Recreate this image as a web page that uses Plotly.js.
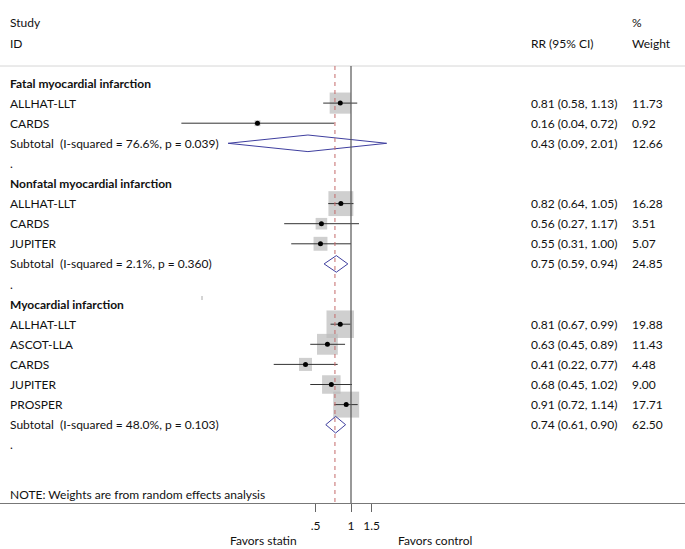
<!DOCTYPE html>
<html>
<head>
<meta charset="utf-8">
<script src="https://cdn.plot.ly/plotly-3.0.1.min.js"></script>
<style>html,body{margin:0;padding:0;background:#fff;}#chart{width:685px;height:549px;}</style>
</head>
<body>
<div id="chart"></div>
<script>
// ---------- data ----------
const groupNames = ['Fatal myocardial infarction', 'Nonfatal myocardial infarction', 'Myocardial infarction'];
const groupRows = [0, 5, 11];

const studyNames = ['ALLHAT-LLT', 'CARDS', 'ALLHAT-LLT', 'CARDS', 'JUPITER', 'ALLHAT-LLT', 'ASCOT-LLA', 'CARDS', 'JUPITER', 'PROSPER'];
const studyRows = [1, 2, 6, 7, 8, 12, 13, 14, 15, 16];
const studyRR = [0.81, 0.16, 0.82, 0.56, 0.55, 0.81, 0.63, 0.41, 0.68, 0.91];
const studyLo = [0.58, 0.036, 0.64, 0.27, 0.31, 0.67, 0.45, 0.22, 0.45, 0.72];
const studyHi = [1.13, 0.72, 1.05, 1.17, 1.00, 0.99, 0.89, 0.77, 1.02, 1.14];
const studyW = [11.73, 0.92, 16.28, 3.51, 5.07, 19.88, 11.43, 4.48, 9.00, 17.71];

const subRows = [3, 9, 17];
const subI2 = ['76.6%', '2.1%', '48.0%'];
const subP = ['0.039', '0.360', '0.103'];
const subRR = [0.43, 0.75, 0.74];
const subLo = [0.09, 0.59, 0.61];
const subHi = [2.01, 0.94, 0.90];
const subW = [12.66, 24.85, 62.50];

const blankRows = [4, 10, 18];
const overallRR = 0.73;

const tickVals = [0.5, 1, 1.5];
const tickText = ['.5', '1', '1.5'];

// ---------- layout helpers ----------
const W = 685, H = 549;
const rowPx0 = 83, rowStep = 20.1, plotBottom = 503;
const pxToV = p => (p - rowPx0) / rowStep;
const pxToPaperY = p => (plotBottom - p) / plotBottom;
const vTop = pxToV(0), vBot = pxToV(plotBottom);
const xOnePx = 351, pxPerDecade = 117.5;
const xr = [-xOnePx / pxPerDecade, (W - xOnePx) / pxPerDecade];
const FONT = 'Lato, "Open Sans", sans-serif';
const FS = 12;
const TXT = '#111';
const fmt = v => v.toFixed(2);

const traces = [];

// CI lines for studies
const ciX = [], ciY = [];
studyRows.forEach((r, i) => { ciX.push(studyLo[i], studyHi[i], null); ciY.push(r, r, null); });

// boxes
traces.push({
  type: 'scatter', mode: 'markers', x: studyRR, y: studyRows,
  marker: { symbol: 'square', color: '#bbbbbb', size: studyW.map(w => 6.17 * Math.sqrt(w)), line: { width: 0 } },
  hoverinfo: 'skip', showlegend: false, cliponaxis: false
});
traces.push({
  type: 'scatter', mode: 'lines', x: ciX, y: ciY,
  line: { color: '#333', width: 1 }, hoverinfo: 'skip', showlegend: false
});
traces.push({
  type: 'scatter', mode: 'markers', x: studyRR, y: studyRows,
  marker: { symbol: 'circle', color: '#000', size: 5 }, hoverinfo: 'skip', showlegend: false
});

// diamonds
const dh = 0.413;
const dX = [], dY = [];
subRows.forEach((r, i) => {
  dX.push(subLo[i], subRR[i], subHi[i], subRR[i], subLo[i], null);
  dY.push(r, r - dh, r, r + dh, r, null);
});
traces.push({
  type: 'scatter', mode: 'lines', x: dX, y: dY,
  line: { color: '#3f3f9f', width: 1 }, hoverinfo: 'skip', showlegend: false
});

// ---------- annotations ----------
const ann = [];
const lx = 8 / W, cix = 529 / W, wx = 630 / W;
function txt(x, v, s, extra) {
  ann.push(Object.assign({ xref: 'paper', yref: 'y', x: x, y: v, text: s, showarrow: false,
    xanchor: 'left', yanchor: 'middle', font: { family: FONT, size: FS, color: TXT } }, extra || {}));
}
txt(lx, pxToV(22), 'Study');
txt(lx, pxToV(43), 'ID');
txt(cix, pxToV(43), 'RR (95% CI)');
txt(wx, pxToV(22), '%');
txt(wx, pxToV(43), 'Weight');
groupRows.forEach((r, i) => txt(lx, r, '<b>' + groupNames[i] + '</b>'));
studyRows.forEach((r, i) => {
  txt(lx, r, studyNames[i]);
  txt(cix, r, fmt(studyRR[i]) + ' (' + fmt(studyLo[i]) + ', ' + fmt(studyHi[i]) + ')');
  txt(wx, r, fmt(studyW[i]));
});
subRows.forEach((r, i) => {
  txt(lx, r, 'Subtotal  (I-squared = ' + subI2[i] + ', p = ' + subP[i] + ')');
  txt(cix, r, fmt(subRR[i]) + ' (' + fmt(subLo[i]) + ', ' + fmt(subHi[i]) + ')');
  txt(wx, r, fmt(subW[i]));
});
blankRows.forEach(r => txt(lx, r, '.'));
txt(lx, pxToV(494), 'NOTE: Weights are from random effects analysis');
txt(263.5 / W, pxToPaperY(540), 'Favors statin', { xanchor: 'center', yref: 'paper' });
txt(435 / W, pxToPaperY(540), 'Favors control', { xanchor: 'center', yref: 'paper' });

// ---------- shapes ----------
const sepV = pxToV(66);
const shapes = [
  { type: 'line', xref: 'paper', yref: 'y', x0: 0, x1: 1, y0: sepV, y1: sepV, line: { color: '#d6d6d6', width: 1 } },
  { type: 'line', xref: 'x', yref: 'y', x0: 1, x1: 1, y0: sepV, y1: vBot, line: { color: '#555', width: 1.2 } },
  { type: 'line', xref: 'x', yref: 'y', x0: overallRR, x1: overallRR, y0: sepV, y1: vBot, line: { color: '#c46a6a', width: 1, dash: '4px,4px' } },
  { type: 'line', xref: 'paper', yref: 'y', x0: 202 / W, x1: 202 / W, y0: pxToV(296), y1: pxToV(300), line: { color: '#aaa', width: 1 } }
];

const layout = {
  width: W, height: H,
  margin: { l: 0, r: 0, t: 0, b: H - plotBottom, pad: 0 },
  paper_bgcolor: '#fff', plot_bgcolor: '#fff',
  showlegend: false,
  font: { family: FONT, size: FS, color: TXT },
  xaxis: {
    type: 'log', range: xr, tickvals: tickVals, ticktext: tickText,
    ticks: 'outside', ticklen: 8, tickcolor: '#666', tickwidth: 1,
    showline: true, linecolor: '#777', linewidth: 1,
    showgrid: false, zeroline: false, fixedrange: true,
    tickfont: { family: FONT, size: FS, color: TXT }, ticklabelstandoff: 4
  },
  yaxis: {
    range: [vBot, vTop], showgrid: false, zeroline: false, showticklabels: false,
    showline: false, ticks: '', fixedrange: true
  },
  annotations: ann,
  shapes: shapes
};

Plotly.newPlot('chart', traces, layout, { displayModeBar: false, staticPlot: true });
</script>
</body>
</html>
